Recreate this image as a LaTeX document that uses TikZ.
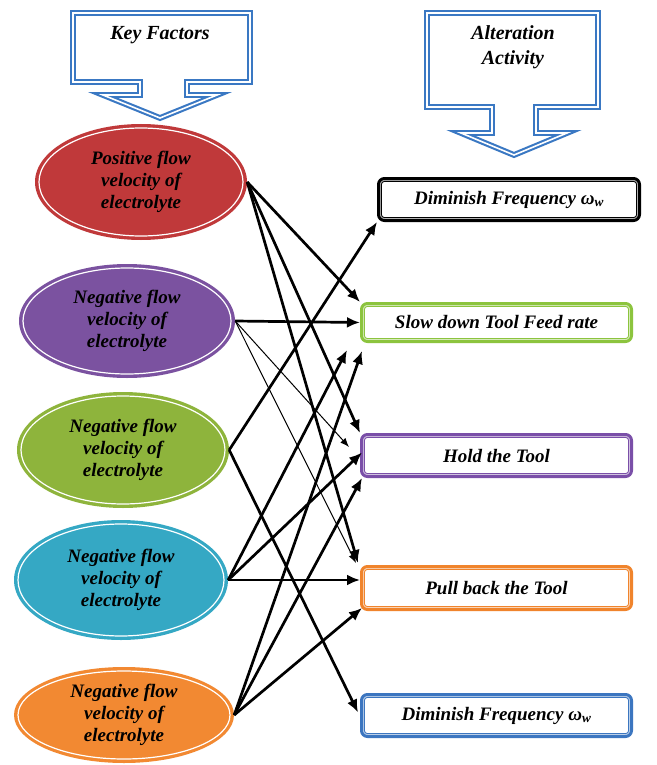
\documentclass[tikz,border=0pt]{standalone}
\usepackage{fontspec}
\setmainfont{Liberation Serif}
\usetikzlibrary{shapes.geometric,arrows.meta}
\definecolor{cred}{HTML}{C0393A}
\definecolor{cpurple}{HTML}{7B52A0}
\definecolor{cgreen}{HTML}{8EB43C}
\definecolor{cteal}{HTML}{35A8C4}
\definecolor{corange}{HTML}{F28932}
\definecolor{bgreen}{HTML}{8CC43E}
\definecolor{bpurple}{HTML}{7A4FA8}
\definecolor{borange}{HTML}{F0842C}
\definecolor{bblue}{HTML}{3C76C0}
\definecolor{cblue}{HTML}{3A78C3}
\newcommand\innerbox[2]{%
  \draw[#2, line width=0.9pt, fill=white, rounded corners=3pt]
    ([shift={(4.4pt,-4.4pt)}]#1.north west) rectangle ([shift={(-4.4pt,4.4pt)}]#1.south east);}
\newcommand\innerring[3]{%
  \draw[white, line width=1.2pt] (#1.center) ellipse [x radius=#2pt, y radius=#3pt];}
\begin{document}
\begin{tikzpicture}[x=1pt,y=-1pt,
  factor/.style={ellipse, inner sep=0pt, align=center,
    font=\fontsize{19}{22}\selectfont\bfseries\itshape},
  activity/.style={rectangle, rounded corners=6pt, line width=3pt,
    minimum width=270pt, inner sep=0pt},
  acttext/.style={font=\fontsize{19}{22}\selectfont\bfseries\itshape},
  header/.style={align=center, inner sep=0pt,
    font=\fontsize{20}{25}\selectfont\bfseries\itshape},
  arr/.style={line width=2.7pt, -{Latex[length=13pt,width=11pt]}},
  thinarr/.style={line width=1pt, -{Latex[length=9pt,width=7pt]}},
  callout/.style={draw=cblue, line width=2.1pt, double=white,
    double distance=1.6pt, line join=miter}]
\fill[white] (0,0) rectangle (656,765);
\useasboundingbox (0,0) rectangle (656,765);

% header callouts
\draw[callout] (73,13) -- (250,13) -- (250,82) -- (187,82) -- (187,95) -- (217,95)
  -- (160,118) -- (103,95) -- (140,95) -- (140,82) -- (73,82) -- cycle;
\node[header] (kf) at (160,35) {Key Factors};
\draw[callout] (427,13) -- (598,13) -- (598,107) -- (536,107) -- (536,133) -- (567,133)
  -- (514,155) -- (461,133) -- (492,133) -- (492,107) -- (427,107) -- cycle;
\node[header] (aa) at (513,47) {Alteration\\Activity};

% key factors
\node[factor, fill=cred, minimum width=212pt, minimum height=116pt] (e1) at (141,182)
  {Positive flow\\velocity of\\electrolyte};
\innerring{e1}{102}{54}
\node[factor, fill=cpurple, minimum width=216pt, minimum height=114pt] (e2) at (127,321)
  {Negative flow\\velocity of\\electrolyte};
\innerring{e2}{104}{53}
\node[factor, fill=cgreen, minimum width=212pt, minimum height=116pt] (e3) at (123,450)
  {Negative flow\\velocity of\\electrolyte};
\innerring{e3}{102}{54}
\node[factor, fill=cteal, minimum width=214pt, minimum height=120pt] (e4) at (121,580)
  {Negative flow\\velocity of\\electrolyte};
\innerring{e4}{103}{56}
\node[factor, fill=corange, minimum width=220pt, minimum height=96pt] (e5) at (124,715)
  {Negative flow\\velocity of\\electrolyte};
\innerring{e5}{106}{44}

% activities
\node[activity, draw=black, fill=black!20, minimum width=261pt, minimum height=42pt] (b1) at (509,199.5) {};
\innerbox{b1}{black}
\node[acttext] at (b1) {Diminish Frequency ω\textsubscript{w}};
\node[activity, draw=bgreen, fill=bgreen!25, minimum height=38pt] (b2) at (496.5,322.5) {};
\innerbox{b2}{bgreen}
\node[acttext] at (b2) {Slow down Tool Feed rate};
\node[activity, draw=bpurple, fill=bpurple!25, minimum height=42pt] (b3) at (496.5,455.5) {};
\innerbox{b3}{bpurple}
\node[acttext] at (b3) {Hold the Tool};
\node[activity, draw=borange, fill=borange!25, minimum height=43pt] (b4) at (496.5,588) {};
\innerbox{b4}{borange}
\node[acttext] at (b4) {Pull back the Tool};
\node[activity, draw=bblue, fill=bblue!25, minimum height=42pt] (b5) at (496.5,715.5) {};
\innerbox{b5}{bblue}
\node[acttext] at (b5) {Diminish Frequency ω\textsubscript{w}};

% connectors
\draw[arr] (e1.east) -- (b2.north west);
\draw[arr] (e1.east) -- (b3.north west);
\draw[arr] (e1.east) -- ([shift={(-2pt,2pt)}]b4.north west);
\draw[arr] (e2.east) -- (b2.west);
\draw[thinarr] (e2.east) -- ([shift={(-11pt,-14pt)}]b3.north west);
\draw[thinarr] (e2.east) -- ([shift={(-4pt,2pt)}]b4.north west);
\draw[arr] (e3.east) -- (b1.south west);
\draw[arr] (e3.east) -- ([shift={(-2pt,3pt)}]b5.west);
\draw[arr] (e4.east) -- ([shift={(-13pt,-7pt)}]b2.south west);
\draw[arr] (e4.east) -- ([shift={(2pt,3pt)}]b3.west);
\draw[arr] (e4.east) -- ([yshift=8pt]b4.west);
\draw[arr] (e5.east) -- ([shift={(2pt,-8pt)}]b2.south west);
\draw[arr] (e5.east) -- ([shift={(2pt,0pt)}]b3.south west);
\draw[arr] (e5.east) -- ([shift={(2pt,3pt)}]b4.south west);
\end{tikzpicture}
\end{document}
